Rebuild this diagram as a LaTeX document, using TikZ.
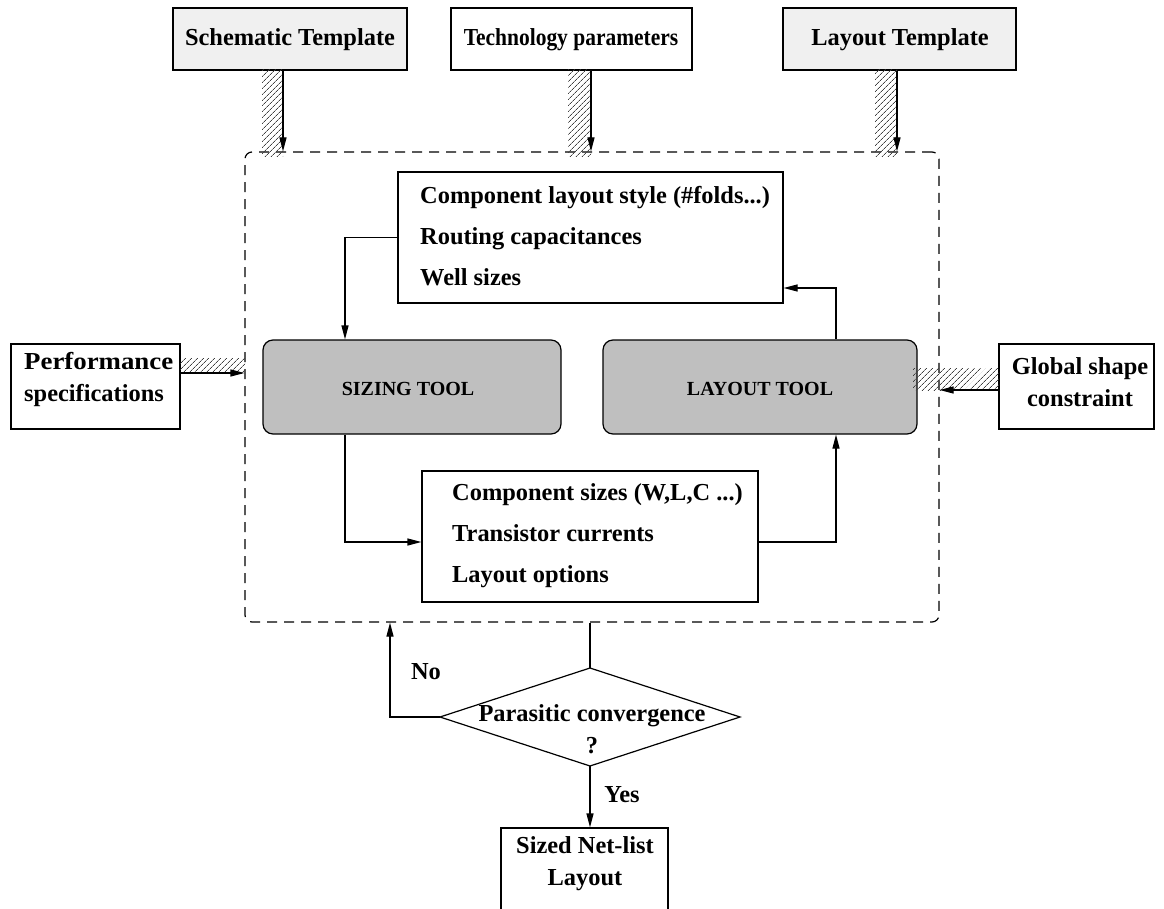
\documentclass[tikz,border=0pt]{standalone}
\usepackage{fontspec}
\setmainfont{Liberation Serif}
\usetikzlibrary{arrows.meta,patterns.meta}
\begin{document}
\begin{tikzpicture}[x=1pt,y=-1pt,
  txt/.style={font=\fontsize{24.4}{32}\selectfont\bfseries,inner sep=0pt},
  listtxt/.style={font=\fontsize{24.4}{41}\selectfont\bfseries,inner sep=0pt,align=left,anchor=west},
  toolbox/.style={draw,line width=1.2pt,rounded corners=10pt,fill=toolgray,inner sep=0pt},
  plainbox/.style={draw,line width=1.2pt,inner sep=0pt},
  graybox/.style={plainbox,fill=boxgray},
  arr/.style={line width=1.2pt,-{Triangle[length=14pt,width=7pt]}},
  conn/.style={line width=1.2pt},
  hatch/.style={pattern={Lines[angle=45,distance=4pt,line width=0.7pt]},pattern color=hatchgray},
  frame/.style={draw,line width=1.2pt,dash pattern=on 10pt off 7pt,rounded corners=7pt,inner sep=0pt}
]
\definecolor{boxgray}{HTML}{F0F0F0}
\definecolor{toolgray}{HTML}{BFBFBF}
\definecolor{hatchgray}{HTML}{404040}
\clip (0,0) rectangle (1164,909);

% frame
\node[frame,minimum width=694pt,minimum height=470pt] (frame) at (592,387) {};

% top inputs
\node[graybox,minimum width=234pt,minimum height=62pt] (sch) at (290,39) {};
\node[txt] (schT) at (290,40) {Schematic Template};
\node[plainbox,minimum width=241pt,minimum height=62pt] (tech) at (571.5,39) {};
\node[txt] (techT) at (571,40) {\scalebox{0.88}[1]{Technology parameters}};
\node[graybox,minimum width=233pt,minimum height=62pt] (lay) at (899.5,39) {};
\node[txt] (layT) at (900,40) {Layout Template};

% side inputs
\node[plainbox,minimum width=169pt,minimum height=85pt] (perf) at (95.5,386.5) {};
\node[txt,align=left,anchor=west] (perfT) at (24,380) {\scalebox{1.1}[1]{Performance}\\specifications};
\node[plainbox,minimum width=155pt,minimum height=85pt] (glob) at (1076.5,386.5) {};
\node[txt,align=center] (globT) at (1080,382) {Global shape\\constraint};

% tools
\node[toolbox,minimum width=298pt,minimum height=94pt] (sizing) at (412,387) {};
\node[txt,font=\fontsize{20}{24}\selectfont\bfseries] (sizingT) at (408,389) {SIZING TOOL};
\node[toolbox,minimum width=314pt,minimum height=94pt] (layout) at (760,387) {};
\node[txt,font=\fontsize{20}{24}\selectfont\bfseries] (layoutT) at (760,389) {LAYOUT TOOL};

% inner boxes
\node[plainbox,fill=white,minimum width=385pt,minimum height=131pt] (topbox) at (590.5,237.5) {};
\node[listtxt] (topT) at (420,236) {Component layout style (\#folds...)\\Routing capacitances\\Well sizes};
\node[plainbox,fill=white,minimum width=336pt,minimum height=131pt] (botbox) at (590,536.5) {};
\node[listtxt] (botT) at (452,536) {Component sizes (W,L,C ...)\\Transistor currents\\Layout options};

% hatched input arrows
\coordinate (h1) at (283,0);
\coordinate (h2) at (591,0);
\coordinate (h3) at (897,0);
\coordinate (h4) at (0,373);
\coordinate (h5) at (0,390);
\fill[hatch] (262,70) rectangle (283,157);
\fill[hatch] (568,70) rectangle (591,157);
\fill[hatch] (875,70) rectangle (897,157);
\fill[hatch] (180,358) rectangle (245,373);
\fill[hatch] (913,368) rectangle (999,390);
\draw[arr] (sch.south -| h1) -- (frame.north -| h1);
\draw[arr] (tech.south -| h2) -- (frame.north -| h2);
\draw[arr] (lay.south -| h3) -- (frame.north -| h3);
\draw[arr] (perf.east |- h4) -- (frame.west |- h4);
\draw[arr] (glob.west |- h5) -- (frame.east |- h5);

% internal loop
\coordinate (c1) at (345,0);
\coordinate (c2) at (836,288);
\coordinate (c4) at (0,542);
\draw[arr] (topbox.west) -| (sizing.north -| c1);
\draw[arr] (layout.north -| c2) |- (topbox.east |- c2);
\draw[arr] (sizing.south -| c1) |- (botbox.west |- c4);
\draw[arr] (botbox.east |- c4) -| (layout.south -| c2);

% decision
\coordinate (dT) at (590,668);
\coordinate (dL) at (440,717);
\coordinate (dR) at (740,717);
\coordinate (dB) at (590,766);
\draw[conn] (dT) -- (dR) -- (dB) -- (dL) -- cycle;
\node[txt,align=center] (decT) at (592,729) {Parasitic convergence\\?};
\draw[conn] (frame.south -| dT) -- (dT);
\coordinate (c5) at (390,0);
\draw[arr] (dL) -| (frame.south -| c5);
\node[txt] (no) at (426,672) {No};

% output
\node[plainbox,minimum width=167pt,minimum height=102pt] (out) at (584.5,879) {};
\node[txt,align=center] (outT) at (585,864) {Sized Net-list\\Layout};
\draw[arr] (dB) -- (out.north -| dB);
\node[txt] (yes) at (622,795) {Yes};
\end{tikzpicture}
\end{document}
